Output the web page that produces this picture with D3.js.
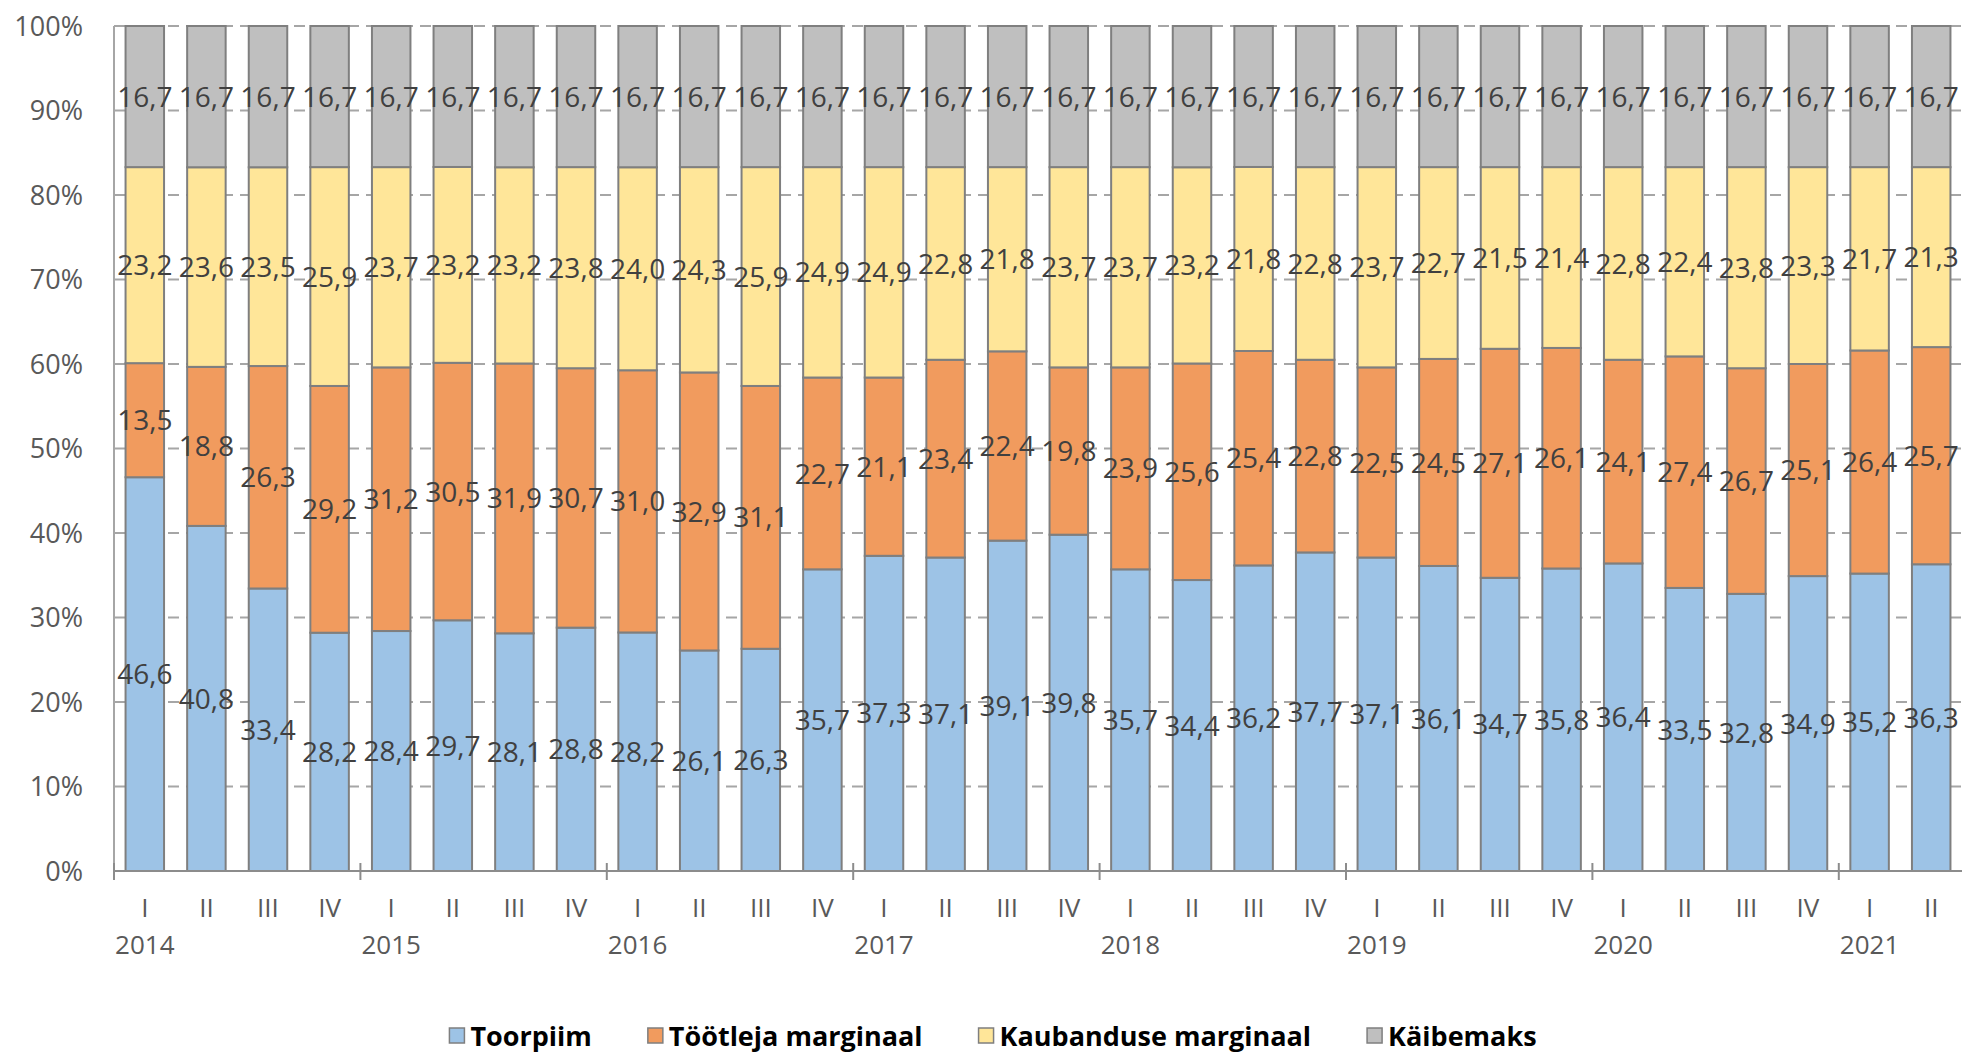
<!DOCTYPE html>
<html>
<head>
<meta charset="utf-8">
<script src="https://cdn.jsdelivr.net/npm/d3@7"></script>
<style>
  body { margin: 0; background: #fff; }
  svg text { font-family: "Open Sans", sans-serif; }
</style>
</head>
<body>
<svg id="chart" width="1962" height="1057"></svg>
<script>
// data
const years = ["2014", "2015", "2016", "2017", "2018", "2019", "2020", "2021"]
const quarters = ["I", "II", "III", "IV", "I", "II", "III", "IV", "I", "II", "III", "IV", "I", "II", "III", "IV",
  "I", "II", "III", "IV", "I", "II", "III", "IV", "I", "II", "III", "IV", "I", "II"]
const toorpiim = [46.6, 40.8, 33.4, 28.2, 28.4, 29.7, 28.1, 28.8, 28.2, 26.1, 26.3, 35.7, 37.3, 37.1, 39.1, 39.8,
  35.7, 34.4, 36.2, 37.7, 37.1, 36.1, 34.7, 35.8, 36.4, 33.5, 32.8, 34.9, 35.2, 36.3]
const tootleja = [13.5, 18.8, 26.3, 29.2, 31.2, 30.5, 31.9, 30.7, 31.0, 32.9, 31.1, 22.7, 21.1, 23.4, 22.4, 19.8,
  23.9, 25.6, 25.4, 22.8, 22.5, 24.5, 27.1, 26.1, 24.1, 27.4, 26.7, 25.1, 26.4, 25.7]
const kaubandus = [23.2, 23.6, 23.5, 25.9, 23.7, 23.2, 23.2, 23.8, 24.0, 24.3, 25.9, 24.9, 24.9, 22.8, 21.8, 23.7,
  23.7, 23.2, 21.8, 22.8, 23.7, 22.7, 21.5, 21.4, 22.8, 22.4, 23.8, 23.3, 21.7, 21.3]
const kaibemaks = [16.7, 16.7, 16.7, 16.7, 16.7, 16.7, 16.7, 16.7, 16.7, 16.7, 16.7, 16.7, 16.7, 16.7, 16.7, 16.7,
  16.7, 16.7, 16.7, 16.7, 16.7, 16.7, 16.7, 16.7, 16.7, 16.7, 16.7, 16.7, 16.7, 16.7]
const seriesNames = ["Toorpiim", "Töötleja marginaal", "Kaubanduse marginaal", "Käibemaks"]
const colours = ["#9dc3e6", "#f19b5e", "#ffe699", "#bfbfbf"]
const yTicks = [0, 0.1, 0.2, 0.3, 0.4, 0.5, 0.6, 0.7, 0.8, 0.9, 1]

const keys = ["a", "b", "c", "d"]
const rows = quarters.map((q, i) => ({i: i, q: q, a: toorpiim[i], b: tootleja[i], c: kaubandus[i], d: kaibemaks[i]}))

const svg = d3.select("#chart")
const plotLeft = 114, plotRight = 1962, plotTop = 26, plotBottom = 871

const x = d3.scaleBand().domain(rows.map(r => r.i)).range([plotLeft, plotRight]).paddingInner(0.375).paddingOuter(0.1875)
const y = d3.scaleLinear().domain([0, 1]).range([plotBottom, plotTop])

const stack = d3.stack().keys(keys).offset(d3.stackOffsetExpand)
const stacked = stack(rows)

// gridlines
svg.append("g").selectAll("line")
  .data(yTicks.filter(t => t > 0))
  .enter().append("line")
  .attr("x1", plotLeft).attr("x2", plotRight)
  .attr("y1", d => y(d)).attr("y2", d => y(d))
  .attr("stroke", "#a6a6a6").attr("stroke-width", 2)
  .attr("stroke-dasharray", "11,7")

// y labels
svg.append("g").selectAll("text")
  .data(yTicks)
  .enter().append("text")
  .attr("x", 83).attr("y", d => y(d))
  .attr("dy", "0.36em")
  .attr("text-anchor", "end")
  .attr("font-size", 27)
  .attr("fill", "#595959")
  .text(d => Math.round(d * 100) + "%")

// bars
const layers = svg.append("g").selectAll("g")
  .data(stacked)
  .enter().append("g")
  .attr("fill", (d, i) => colours[i])

layers.selectAll("rect")
  .data(d => d)
  .enter().append("rect")
  .attr("x", d => x(d.data.i))
  .attr("width", x.bandwidth())
  .attr("y", d => y(d[1]))
  .attr("height", d => y(d[0]) - y(d[1]))
  .attr("stroke", "#7f7f7f")
  .attr("stroke-width", 2)

// axes lines
svg.append("line").attr("x1", plotLeft).attr("x2", plotLeft).attr("y1", plotTop).attr("y2", plotBottom)
  .attr("stroke", "#a6a6a6").attr("stroke-width", 2)
svg.append("line").attr("x1", plotLeft).attr("x2", plotRight).attr("y1", plotBottom).attr("y2", plotBottom)
  .attr("stroke", "#8c8c8c").attr("stroke-width", 2)

// year separator ticks
const step = x.step()
svg.append("g").selectAll("line")
  .data(years.map((yr, k) => k * 4))
  .enter().append("line")
  .attr("x1", d => plotLeft + d * step).attr("x2", d => plotLeft + d * step)
  .attr("y1", plotBottom - 8).attr("y2", plotBottom + 9)
  .attr("stroke", "#8c8c8c").attr("stroke-width", 2)

// data labels
layers.selectAll("text")
  .data(d => d)
  .enter().append("text")
  .attr("x", d => x(d.data.i) + x.bandwidth() / 2)
  .attr("y", d => (y(d[0]) + y(d[1])) / 2)
  .attr("dy", "0.36em")
  .attr("text-anchor", "middle")
  .attr("font-size", 28)
  .attr("fill", "#404040")
  .text(function (d) {
    const key = d3.select(this.parentNode).datum().key
    return d.data[key].toFixed(1).replace(".", ",")
  })

// quarter labels
svg.append("g").selectAll("text")
  .data(rows)
  .enter().append("text")
  .attr("x", d => x(d.i) + x.bandwidth() / 2)
  .attr("y", 908)
  .attr("dy", "0.36em")
  .attr("text-anchor", "middle")
  .attr("font-size", 26)
  .attr("fill", "#595959")
  .text(d => d.q)

// year labels
svg.append("g").selectAll("text")
  .data(years)
  .enter().append("text")
  .attr("x", (d, k) => x(k * 4) + x.bandwidth() / 2)
  .attr("y", 945)
  .attr("dy", "0.36em")
  .attr("text-anchor", "middle")
  .attr("font-size", 26)
  .attr("fill", "#595959")
  .text(d => d)

// legend
const legend = svg.append("g")
const items = legend.selectAll("g")
  .data(seriesNames)
  .enter().append("g")
items.append("rect")
  .attr("width", 15).attr("height", 15)
  .attr("y", -8)
  .attr("fill", (d, i) => colours[i])
  .attr("stroke", "#7f7f7f").attr("stroke-width", 1.5)
items.append("text")
  .attr("x", 21)
  .attr("dy", "0.36em")
  .attr("font-size", 27)
  .attr("font-weight", "bold")
  .attr("fill", "#000")
  .text(d => d)

let pos = 0
items.each(function () {
  const w = this.getBBox().width
  d3.select(this).attr("transform", `translate(${pos},0)`)
  pos += w + 56
})
const total = pos - 56
legend.attr("transform", `translate(${993 - total / 2},1036)`)
</script>
</body>
</html>
